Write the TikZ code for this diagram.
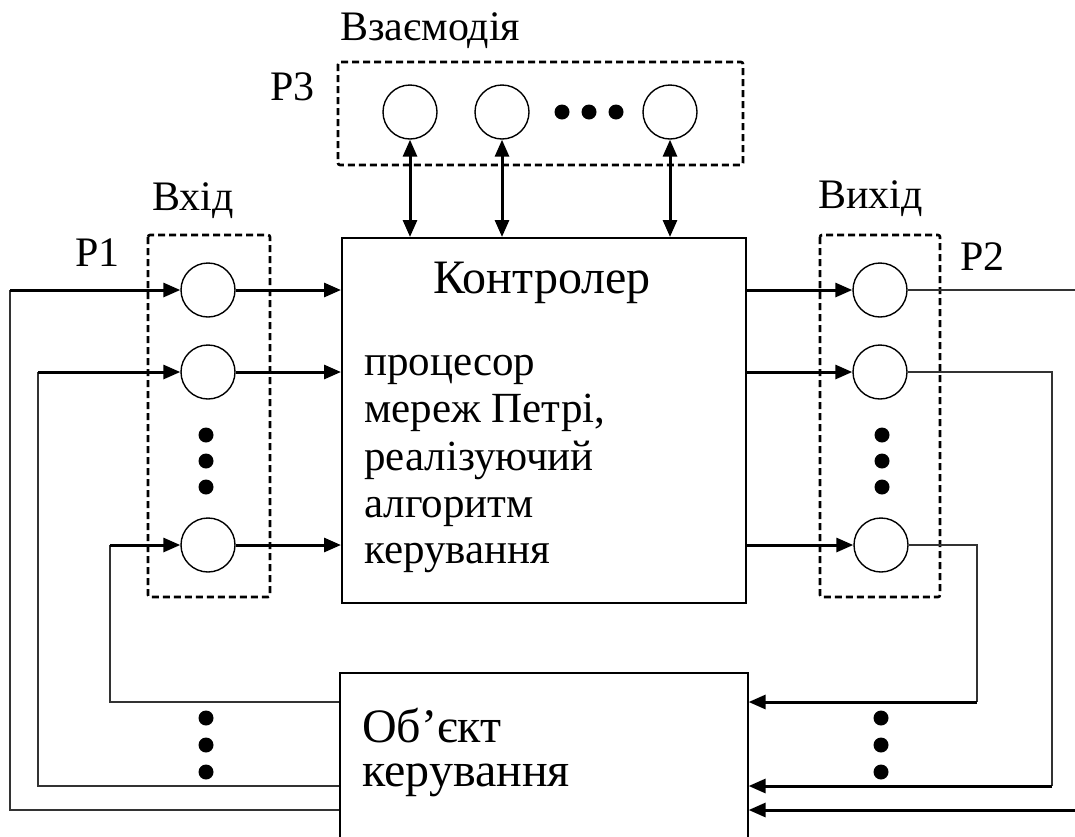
\documentclass[tikz,border=0pt]{standalone}
\usepackage{fontspec}
\setmainfont{Liberation Serif}
\usetikzlibrary{arrows.meta}
\begin{document}
\begin{tikzpicture}[x=1pt,y=-1pt,
  place/.style={circle,draw,line width=1.4pt,minimum size=54pt,inner sep=0pt},
  blockbox/.style={draw,line width=1.6pt,inner sep=0pt},
  groupbox/.style={draw,line width=2.6pt,dash pattern=on 7pt off 4pt,rounded corners=2pt},
  thickarrow/.style={line width=3pt,-{Triangle[length=17pt,width=14pt]}},
  botharrow/.style={line width=3pt,{Triangle[length=17pt,width=14pt]}-{Triangle[length=17pt,width=14pt]}},
  thinline/.style={line width=1.6pt,draw=black!80},
  lbl/.style={anchor=base west,inner sep=0pt,font=\fontsize{42}{47}\selectfont},
  body/.style={anchor=base west,inner sep=0pt,font=\fontsize{43}{47}\selectfont},
  objtext/.style={anchor=base west,inner sep=0pt,font=\fontsize{48}{50}\selectfont},
  dot/.style={circle,fill=black,minimum size=15pt,inner sep=0pt}
]
\useasboundingbox (0,0) rectangle (1075,836);
\clip (0,0) rectangle (1075,836);
\fill[white] (0,0) rectangle (1075,836);

% dashed groups
\draw[groupbox] (338,62) rectangle (743,165);
\draw[groupbox] (148,235) rectangle (270,597);
\draw[groupbox] (820,235) rectangle (940,597);

% labels
\node[lbl] (tvz) at (340,40) {Взаємодія};
\node[lbl] (tp3) at (270,100) {P3};
\node[lbl] (tvh) at (152,210) {Вхід};
\node[lbl] (tp1) at (75,266) {P1};
\node[lbl] (tvy) at (818,208) {Вихід};
\node[lbl] (tp2) at (960,270) {P2};

% controller
\node[blockbox,minimum width=404pt,minimum height=365pt,anchor=north west] (ctrl) at (341,237) {};
\node[lbl,anchor=base,font=\fontsize{48}{50}\selectfont] (tk) at (542,293) {Контролер};
\node[body] (tc1) at (364,375) {процесор};
\node[body] (tc2) at (364,422) {мереж Петрі,};
\node[body] (tc3) at (364,470) {реалізуючий};
\node[body] (tc4) at (364,517) {алгоритм};
\node[body] (tc5) at (364,563) {керування};

% object
\node[blockbox,minimum width=408pt,minimum height=180pt,anchor=north west] (obj) at (339,672) {};
\node[objtext] (to1) at (362,742) {Об’єкт};
\node[objtext] (to2) at (362,786) {керування};

% P3 places
\node[place] (p31) at (410,112) {};
\node[place] (p32) at (502,112) {};
\node[place] (p33) at (670,112) {};
\node[dot] (d31) at (562,112) {};
\node[dot] (d32) at (589,112) {};
\node[dot] (d33) at (616,112) {};

% input places
\node[place] (i1) at (208,290) {};
\node[place] (i2) at (208,372) {};
\node[place] (i3) at (208,545) {};
\node[dot] (di1) at (206,435) {};
\node[dot] (di2) at (206,461) {};
\node[dot] (di3) at (206,487) {};

% output places
\node[place] (o1) at (880,290) {};
\node[place] (o2) at (880,372) {};
\node[place] (o3) at (881,545) {};
\node[dot] (do1) at (882,435) {};
\node[dot] (do2) at (882,461) {};
\node[dot] (do3) at (882,487) {};

% bottom dots
\node[dot] (db1) at (206,718) {};
\node[dot] (db2) at (206,745) {};
\node[dot] (db3) at (206,772) {};
\node[dot] (db4) at (881,718) {};
\node[dot] (db5) at (881,745) {};
\node[dot] (db6) at (881,772) {};

% P3 <-> controller
\draw[botharrow] (p31.south) -- (p31.south |- ctrl.north);
\draw[botharrow] (p32.south) -- (p32.south |- ctrl.north);
\draw[botharrow] (p33.south) -- (p33.south |- ctrl.north);

% input -> controller
\draw[thickarrow] (i1.east) -- (ctrl.west |- i1);
\draw[thickarrow] (i2.east) -- (ctrl.west |- i2);
\draw[thickarrow] (i3.east) -- (ctrl.west |- i3);

% controller -> output
\draw[thickarrow] (ctrl.east |- o1) -- (o1.west);
\draw[thickarrow] (ctrl.east |- o2) -- (o2.west);
\draw[thickarrow] (ctrl.east |- o3) -- (o3.west);

% left feedback
\coordinate (l1) at (10,290);
\coordinate (l2) at (38,372);
\coordinate (l3) at (110,545);
\coordinate (lb1) at (10,810);
\coordinate (lb2) at (38,786);
\coordinate (lb3) at (110,702);
\draw[thinline] (obj.west |- lb1) -- (lb1) -- (l1);
\draw[thinline] (obj.west |- lb2) -- (lb2) -- (l2);
\draw[thinline] (obj.west |- lb3) -- (lb3) -- (l3);
\draw[thickarrow] (l1) -- (i1.west);
\draw[thickarrow] (l2) -- (i2.west);
\draw[thickarrow] (l3) -- (i3.west);

% right feedback
\coordinate (r1) at (1078,290);
\coordinate (r2) at (1052,372);
\coordinate (r3) at (977,545);
\coordinate (rb1) at (1078,810);
\coordinate (rb2) at (1052,786);
\coordinate (rb3) at (977,702);
\draw[thinline] (o1.east) -- (r1);
\draw[thinline] (o2.east) -- (r2) -- (rb2);
\draw[thinline] (o3.east) -- (r3) -- (rb3);
\draw[thickarrow] (rb1) -- (obj.east |- rb1);
\draw[thickarrow] (rb2) -- (obj.east |- rb2);
\draw[thickarrow] (rb3) -- (obj.east |- rb3);
\end{tikzpicture}
\end{document}
